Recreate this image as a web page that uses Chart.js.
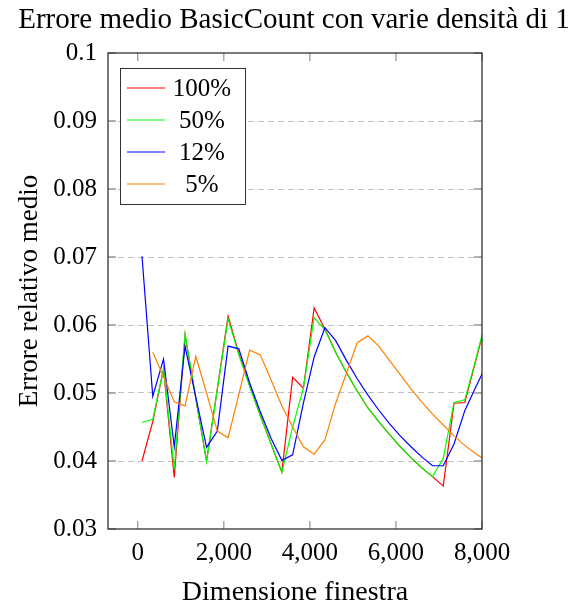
<!DOCTYPE html>
<html>
<head>
<meta charset="utf-8">
<title>Errore medio BasicCount</title>
<script src="https://cdn.jsdelivr.net/npm/chart.js@4/dist/chart.umd.min.js"></script>
<style>
  body { margin: 0; background: #fff; }
  #chart { display: block; }
</style>
</head>
<body>
<canvas id="chart" width="581" height="604"></canvas>
<script>
// window sizes (x) and mean relative error for each density of 1s
var windowSizes = [100, 350, 600, 850, 1100, 1350, 1600, 1850, 2100, 2350, 2600, 2850, 3100, 3350, 3600, 3850,
                   4100, 4350, 4600, 4850, 5100, 5350, 5600, 5850, 6100, 6350, 6600, 6850, 7100, 7350, 7600, 7850, 8100];

var density100 = [0.0400, 0.0458, 0.0535, 0.0376, 0.0585, 0.0492, 0.0400, 0.0506, 0.0613, 0.0558, 0.0511, 0.0467, 0.0425, 0.0384, 0.0523, 0.0507,
                  0.0625, 0.0594, 0.0560, 0.0530, 0.0503, 0.0478, 0.0458, 0.0439, 0.0421, 0.0405, 0.0390, 0.0377, 0.0363, 0.0485, 0.0486, 0.0546, 0.0607];
var density50  = [0.0457, 0.0461, 0.0536, 0.0388, 0.0587, 0.0493, 0.0399, 0.0505, 0.0609, 0.0556, 0.0510, 0.0467, 0.0425, 0.0383, 0.0450, 0.0507,
                  0.0611, 0.0593, 0.0560, 0.0530, 0.0503, 0.0478, 0.0458, 0.0439, 0.0421, 0.0405, 0.0390, 0.0377, 0.0404, 0.0486, 0.0490, 0.0548, 0.0610];
var density12  = [0.0701, 0.0495, 0.0550, 0.0421, 0.0569, 0.0494, 0.0420, 0.0444, 0.0569, 0.0565, 0.0515, 0.0472, 0.0433, 0.0401, 0.0409, 0.0485,
                  0.0553, 0.0596, 0.0577, 0.0548, 0.0521, 0.0497, 0.0475, 0.0455, 0.0437, 0.0421, 0.0406, 0.0393, 0.0393, 0.0425, 0.0474, 0.0508, 0.0541];
var density5   = [null,   0.0560, 0.0524, 0.0487, 0.0481, 0.0554, 0.0500, 0.0444, 0.0434, 0.0498, 0.0563, 0.0556, 0.0519, 0.0481, 0.0450, 0.0421,
                  0.0410, 0.0431, 0.0485, 0.0529, 0.0574, 0.0584, 0.0569, 0.0548, 0.0527, 0.0506, 0.0487, 0.0469, 0.0453, 0.0437, 0.0423, 0.0411, 0.0400];

var xTicks = [0, 2000, 4000, 6000, 8000];
var yTicks = [0.03, 0.04, 0.05, 0.06, 0.07, 0.08, 0.09, 0.1];

var serif = "'Liberation Serif', 'DejaVu Serif', serif";

function points( values ) {
    return windowSizes.map( function ( x, i ) {
        return { x: x, y: values[ i ] };
    } );
}

// closed frame with short inward tick marks on every side
var axisFrame = {
    id: "axisFrame",
    afterDatasetsDraw: function ( chart ) {
        var ctx = chart.ctx, a = chart.chartArea;
        var x = chart.scales.x, y = chart.scales.y;
        ctx.save();
        ctx.strokeStyle = "#9c9c9c";
        ctx.lineWidth = 1.3;
        ctx.beginPath();
        xTicks.forEach( function ( v ) {
            var px = x.getPixelForValue( v );
            ctx.moveTo( px, a.bottom ); ctx.lineTo( px, a.bottom - 8 );
            ctx.moveTo( px, a.top ); ctx.lineTo( px, a.top + 8 );
        } );
        yTicks.forEach( function ( v ) {
            var py = y.getPixelForValue( v );
            ctx.moveTo( a.left, py ); ctx.lineTo( a.left + 8, py );
            ctx.moveTo( a.right, py ); ctx.lineTo( a.right - 8, py );
        } );
        ctx.stroke();
        ctx.strokeStyle = "#222";
        ctx.lineWidth = 1.2;
        ctx.strokeRect( a.left, a.top, a.right - a.left, a.bottom - a.top );
        ctx.restore();
    }
};

// boxed legend in the upper left corner of the plot
var boxedLegend = {
    id: "boxedLegend",
    afterDraw: function ( chart ) {
        var ctx = chart.ctx, a = chart.chartArea;
        var sets = chart.data.datasets;
        var left = a.left + 12, top = a.top + 15, w = 125, rowH = 32;
        var h = sets.length * rowH + 8;
        ctx.save();
        ctx.fillStyle = "#fff";
        ctx.fillRect( left, top, w, h );
        ctx.strokeStyle = "#333";
        ctx.lineWidth = 1;
        ctx.strokeRect( left + 0.5, top + 0.5, w, h );
        ctx.font = "25px " + serif;
        ctx.textAlign = "center";
        ctx.textBaseline = "middle";
        sets.forEach( function ( ds, i ) {
            var cy = top + 20 + i * rowH;
            ctx.strokeStyle = ds.borderColor;
            ctx.lineWidth = 1.2;
            ctx.beginPath();
            ctx.moveTo( left + 7, cy );
            ctx.lineTo( left + 45, cy );
            ctx.stroke();
            ctx.fillStyle = "#000";
            ctx.fillText( ds.label, left + 82, cy + 1 );
        } );
        ctx.restore();
    }
};

new Chart( document.getElementById( "chart" ), {
    type: "line",
    data: {
        datasets: [
            { label: "100%", data: points( density100 ), borderColor: "#ff0000", order: 4 },
            { label: "50%", data: points( density50 ), borderColor: "#00ff00", order: 3 },
            { label: "12%", data: points( density12 ), borderColor: "#0000ff", order: 2 },
            { label: "5%", data: points( density5 ), borderColor: "#ff8000", order: 1 }
        ]
    },
    options: {
        responsive: false,
        animation: false,
        devicePixelRatio: 1,
        datasets: {
            line: { borderWidth: 1.2, pointRadius: 0, tension: 0, fill: false }
        },
        layout: { padding: { left: 7, right: 0, top: 0, bottom: 0 } },
        plugins: {
            legend: { display: false },
            tooltip: { enabled: false },
            title: {
                display: true,
                text: "Errore medio BasicCount con varie densità di 1",
                color: "#000",
                font: { family: serif, size: 29, weight: "normal", lineHeight: 1 },
                padding: { top: 6, bottom: 18 }
            }
        },
        scales: {
            x: {
                type: "linear",
                min: -690,
                max: 8000,
                afterBuildTicks: function ( s ) {
                    s.ticks = xTicks.map( function ( v ) { return { value: v }; } );
                },
                afterFit: function ( s ) { s.height = 75; },
                grid: { display: false },
                border: { display: false },
                ticks: { color: "#000", padding: 1, maxRotation: 0, font: { family: serif, size: 25 } },
                title: {
                    display: true,
                    text: "Dimensione finestra",
                    color: "#000",
                    font: { family: serif, size: 28, lineHeight: 0.8 },
                    padding: { top: 0, bottom: 0 }
                }
            },
            y: {
                min: 0.03,
                max: 0.1,
                afterBuildTicks: function ( s ) {
                    s.ticks = yTicks.map( function ( v ) { return { value: v }; } );
                },
                afterFit: function ( s ) { s.width = 101; },
                grid: {
                    drawTicks: false,
                    lineWidth: 1,
                    color: function ( c ) {
                        var v = c.tick ? c.tick.value : 0;
                        return v > 0.031 && v < 0.099 ? "#c0c0c0" : "rgba(0,0,0,0)";
                    }
                },
                border: { display: false, dash: [ 6, 4 ] },
                ticks: {
                    color: "#000",
                    padding: 11,
                    font: { family: serif, size: 25 },
                    callback: function ( value ) {
                        return String( Number( value.toFixed( 2 ) ) );
                    }
                },
                title: {
                    display: true,
                    text: "Errore relativo medio",
                    color: "#000",
                    font: { family: serif, size: 27, lineHeight: 1 },
                    padding: { top: 9, bottom: 0 }
                }
            },
            // empty strip on the right side of the figure
            yRight: {
                position: "right",
                display: true,
                afterFit: function ( s ) { s.width = 99; },
                grid: { display: false },
                border: { display: false },
                ticks: { display: false }
            }
        }
    },
    plugins: [ axisFrame, boxedLegend ]
} );
</script>
</body>
</html>
